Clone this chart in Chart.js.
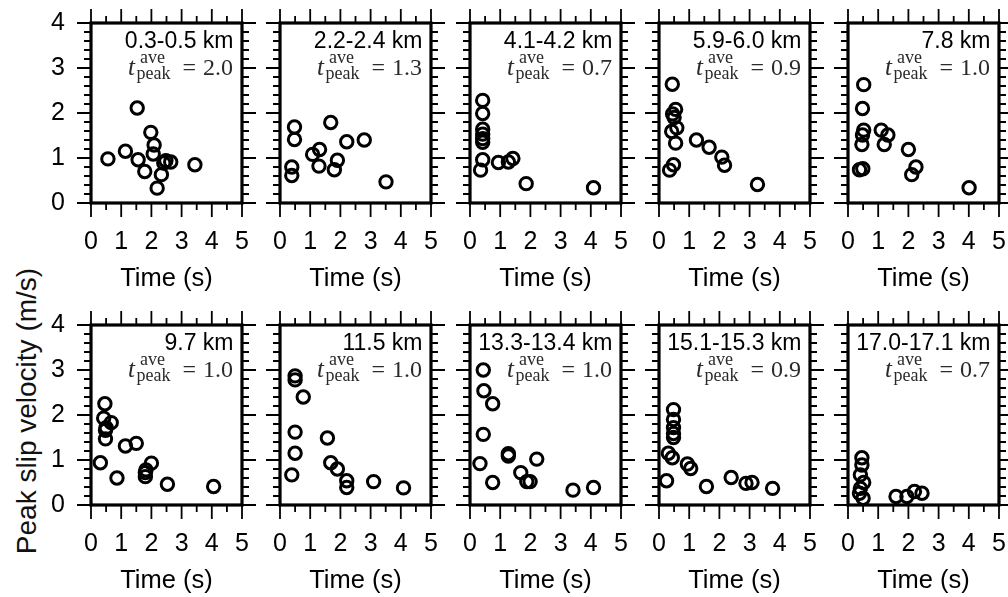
<!DOCTYPE html>
<html>
<head>
<meta charset="utf-8">
<script src="https://cdn.jsdelivr.net/npm/chart.js@4.4.1/dist/chart.umd.min.js"></script>
<style>
  body { margin: 0; background: #fff; width: 1008px; height: 597px; overflow: hidden; position: relative; }
  canvas { position: absolute; }
  #ylab {
    position: absolute; left: 27px; top: 411px;
    transform: translate(-50%, -50%) rotate(-90deg);
    font: 28px "Liberation Sans", Arial, sans-serif; white-space: nowrap; color: #111;
  }
</style>
</head>
<body>
<div id="ylab">Peak slip velocity (m/s)</div>
<script>
// panel labels
const depths = ["0.3-0.5 km", "2.2-2.4 km", "4.1-4.2 km", "5.9-6.0 km", "7.8 km",
                "9.7 km", "11.5 km", "13.3-13.4 km", "15.1-15.3 km", "17.0-17.1 km"]
const tpeak = [2.0, 1.3, 0.7, 0.9, 1.0, 1.0, 1.0, 1.0, 0.9, 0.7]

// ticks
const xTicks = [0, 1, 2, 3, 4, 5]
const xMinor = [0.5, 1.5, 2.5, 3.5, 4.5]
const yTicks = [0, 1, 2, 3, 4]
const yMinor = [0.2, 0.4, 0.6, 0.8, 1.2, 1.4, 1.6, 1.8, 2.2, 2.4, 2.6, 2.8, 3.2, 3.4, 3.6, 3.8]

// time (s) and peak slip velocity (m/s) for each panel
const time1 = [0.56, 1.14, 1.53, 1.56, 1.78, 1.98, 2.09, 2.06, 2.19, 2.33, 2.41, 2.48, 2.64, 3.44]
const vel1  = [0.98, 1.15, 2.11, 0.96, 0.70, 1.57, 1.29, 1.09, 0.33, 0.63, 0.89, 0.94, 0.91, 0.85]
const time2 = [0.48, 0.48, 0.39, 0.39, 1.68, 1.08, 1.31, 1.29, 1.90, 1.80, 2.21, 2.79, 3.51]
const vel2  = [1.69, 1.41, 0.80, 0.61, 1.79, 1.08, 1.19, 0.82, 0.95, 0.74, 1.36, 1.40, 0.47]
const time3 = [0.42, 0.42, 0.42, 0.42, 0.42, 0.42, 0.42, 0.35, 0.94, 1.27, 1.42, 1.86, 4.09]
const vel3  = [2.28, 1.99, 1.64, 1.53, 1.43, 1.35, 0.96, 0.73, 0.90, 0.91, 0.99, 0.43, 0.34]
const time4 = [0.44, 0.55, 0.45, 0.50, 0.59, 0.42, 0.55, 0.48, 0.35, 1.24, 1.66, 2.08, 2.17, 3.26]
const vel4  = [2.64, 2.08, 1.98, 1.90, 1.67, 1.59, 1.33, 0.85, 0.73, 1.40, 1.24, 1.02, 0.84, 0.41]
const time5 = [0.52, 0.48, 0.52, 0.48, 0.46, 0.38, 0.49, 1.10, 1.32, 1.20, 2.00, 2.25, 2.11, 4.01]
const vel5  = [2.63, 2.10, 1.62, 1.51, 1.30, 0.74, 0.76, 1.62, 1.51, 1.30, 1.19, 0.80, 0.63, 0.34]
const time6 = [0.46, 0.42, 0.67, 0.50, 0.48, 0.48, 0.31, 0.86, 1.14, 1.50, 2.00, 1.80, 1.80, 1.82, 2.53, 4.06]
const vel6  = [2.25, 1.93, 1.83, 1.72, 1.66, 1.47, 0.94, 0.60, 1.31, 1.37, 0.93, 0.72, 0.63, 0.78, 0.46, 0.41]
const time7 = [0.50, 0.50, 0.77, 0.50, 0.50, 0.39, 1.57, 1.68, 1.90, 2.21, 2.21, 3.10, 4.09]
const vel7  = [2.87, 2.78, 2.40, 1.62, 1.15, 0.67, 1.49, 0.94, 0.80, 0.54, 0.39, 0.52, 0.38]
const time8 = [0.44, 0.46, 0.75, 0.44, 1.27, 1.27, 0.33, 2.21, 0.75, 1.68, 1.88, 1.99, 3.41, 4.09]
const vel8  = [3.00, 2.54, 2.25, 1.57, 1.14, 1.09, 0.92, 1.02, 0.50, 0.72, 0.52, 0.52, 0.33, 0.39]
const time9 = [0.48, 0.48, 0.48, 0.48, 0.48, 0.31, 0.44, 0.94, 1.05, 0.25, 1.57, 2.39, 2.88, 3.08, 3.76]
const vel9  = [2.12, 1.90, 1.72, 1.59, 1.50, 1.15, 1.05, 0.91, 0.81, 0.54, 0.41, 0.61, 0.48, 0.50, 0.37]
const time10 = [0.46, 0.46, 0.41, 0.52, 0.41, 0.50, 0.38, 1.59, 1.95, 2.20, 2.45]
const vel10  = [1.05, 0.89, 0.67, 0.50, 0.37, 0.15, 0.26, 0.19, 0.19, 0.30, 0.26]

const times = [time1, time2, time3, time4, time5, time6, time7, time8, time9, time10]
const vels = [vel1, vel2, vel3, vel4, vel5, vel6, vel7, vel8, vel9, vel10]

const sans = '"Liberation Sans", Arial, sans-serif'
const serif = '"Liberation Serif", "Times New Roman", serif'

// frame, outward ticks and panel texts
const framePlugin = {
  id: "frame",
  afterDatasetsDraw(chart, args, opts) {
    const { ctx, chartArea: a, scales: { x, y } } = chart
    ctx.save()
    ctx.strokeStyle = "#000"
    ctx.lineWidth = 3.2
    ctx.strokeRect(a.left, a.top, a.right - a.left, a.bottom - a.top)

    ctx.lineWidth = 1.8
    ctx.beginPath()
    const xt = (v, len) => {
      const px = x.getPixelForValue(v)
      ctx.moveTo(px, a.bottom); ctx.lineTo(px, a.bottom + len)
      ctx.moveTo(px, a.top); ctx.lineTo(px, a.top - len)
    }
    const yt = (v, len) => {
      const py = y.getPixelForValue(v)
      ctx.moveTo(a.left, py); ctx.lineTo(a.left - len, py)
      ctx.moveTo(a.right, py); ctx.lineTo(a.right + len, py)
    }
    xTicks.forEach(v => xt(v, 14))
    xMinor.forEach(v => xt(v, 7))
    yTicks.forEach(v => yt(v, 14))
    yMinor.forEach(v => yt(v, 7))
    ctx.stroke()

    // depth label
    ctx.fillStyle = "#000"
    ctx.textAlign = "right"
    ctx.textBaseline = "alphabetic"
    ctx.font = `23px ${sans}`
    ctx.fillText(opts.depth, a.right - 8.5, a.top + 25)

    // t_peak^ave = value
    const base = a.top + 52
    let xr = a.right - 9
    ctx.fillStyle = "#2a2a2a"
    ctx.font = `24px ${serif}`
    const num = opts.tp.toFixed(1)
    ctx.fillText(num, xr, base)
    xr -= ctx.measureText(num).width + 7
    ctx.fillText("=", xr, base)
    xr -= ctx.measureText("=").width + 12
    ctx.font = `18px ${serif}`
    const ws = Math.max(ctx.measureText("peak").width, ctx.measureText("ave").width)
    ctx.textAlign = "left"
    ctx.fillText("ave", xr - ws + (ws - ctx.measureText("ave").width) / 2 - 1, base - 12)
    ctx.fillText("peak", xr - ws, base + 3.5)
    ctx.textAlign = "right"
    ctx.font = `italic 25px ${serif}`
    ctx.fillText("t", xr - ws - 1.5, base)
    ctx.restore()
  }
}

const frameLefts = [91, 280, 470, 659, 848]
const frameTops = [23, 325]

for (let i = 0; i < 10; i++) {
  const col = i % 5
  const row = Math.floor(i / 5)
  const cv = document.createElement("canvas")
  cv.width = 241
  cv.height = 305
  cv.style.left = (frameLefts[col] - 60) + "px"
  cv.style.top = (frameTops[row] - 25) + "px"
  cv.style.width = "241px"
  cv.style.height = "305px"
  document.body.appendChild(cv)

  const pts = times[i].map((t, k) => ({ x: t, y: vels[i][k] }))

  new Chart(cv, {
    type: "scatter",
    data: {
      datasets: [{
        data: pts,
        pointStyle: "circle",
        pointRadius: 6.2,
        pointHoverRadius: 6.2,
        borderWidth: 3,
        borderColor: "#000",
        backgroundColor: "rgba(0,0,0,0)",
        clip: false
      }]
    },
    options: {
      responsive: false,
      animation: false,
      events: [],
      layout: { padding: { top: 25, right: 30, left: 0, bottom: 0 } },
      plugins: {
        legend: { display: false },
        tooltip: { enabled: false },
        frame: { depth: depths[i], tp: tpeak[i] }
      },
      scales: {
        x: {
          type: "linear", min: 0, max: 5,
          afterFit: s => { s.height = 100; s.paddingLeft = 0; s.paddingRight = 0 },
          afterBuildTicks: s => { s.ticks = xTicks.map(v => ({ value: v })) },
          grid: { display: false, drawTicks: false },
          border: { display: false },
          ticks: { padding: 24.5, color: "#000", font: { family: sans, size: 25 } },
          title: {
            display: true, text: "Time (s)", color: "#000",
            font: { family: sans, size: 25.5 }, padding: { top: 0, bottom: 8.7 }
          }
        },
        y: {
          type: "linear", min: 0, max: 4,
          afterFit: s => { s.width = 60; s.paddingTop = 0; s.paddingBottom = 0 },
          afterBuildTicks: s => { s.ticks = yTicks.map(v => ({ value: v })) },
          grid: { display: false, drawTicks: false },
          border: { display: false },
          ticks: { display: col === 0, padding: 26, color: "#000", font: { family: sans, size: 25 } }
        }
      }
    },
    plugins: [framePlugin]
  })
}
</script>
</body>
</html>
